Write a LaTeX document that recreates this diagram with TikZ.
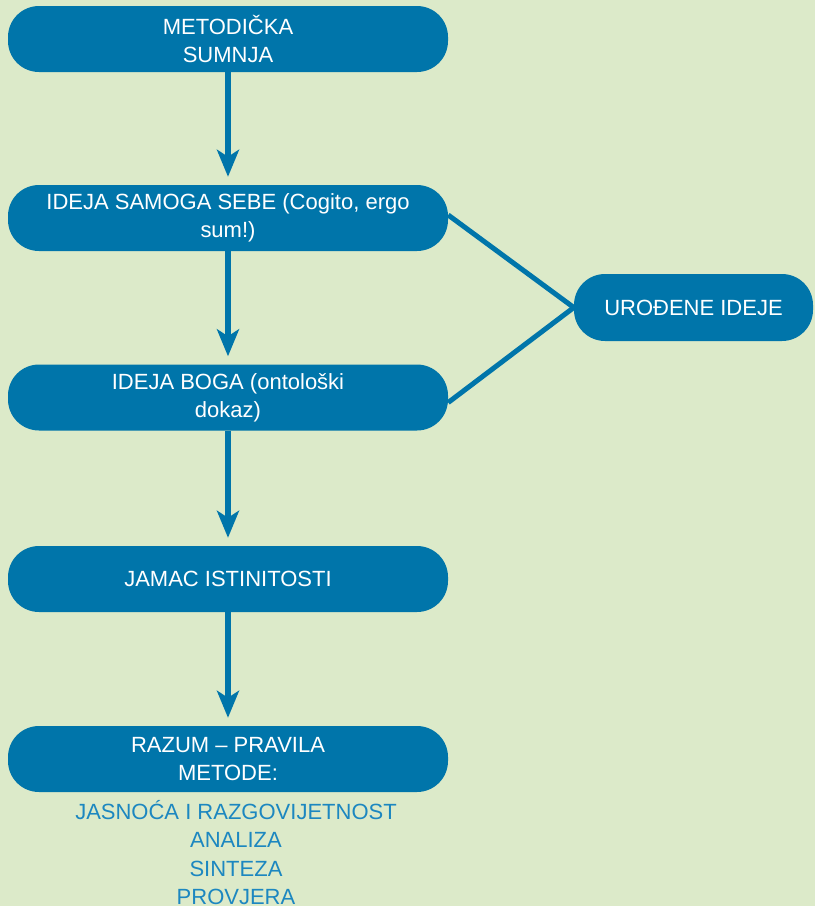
\documentclass[tikz,border=0pt]{standalone}
\usepackage{fontspec}
\setmainfont{Liberation Sans}
\usetikzlibrary{arrows.meta}
\definecolor{bgc}{RGB}{220,234,201}
\definecolor{boxc}{RGB}{0,117,170}
\definecolor{txtc}{RGB}{28,135,192}
\tikzset{
  pill/.style={fill=boxc, draw=none, rounded corners=31pt, text=white,
    align=center, font=\fontsize{22}{28}\selectfont, inner sep=0pt},
  arr/.style={draw=boxc, line width=5.5pt, -{Stealth[length=27pt,width=22pt,inset=7pt]}, shorten >=8pt},
  link/.style={draw=boxc, line width=5pt},
}
\begin{document}
\begin{tikzpicture}[x=1pt,y=-1pt]
\fill[bgc] (0,0) rectangle (815,906);
\useasboundingbox (0,0) rectangle (815,906);
\node[pill, minimum width=440pt, minimum height=66pt] (b1) at (228,39) {METODIČKA\\SUMNJA};
\node[pill, minimum width=440pt, minimum height=66pt] (b2) at (228,218) {IDEJA SAMOGA SEBE (Cogito, ergo\\sum!)};
\node[pill, minimum width=440pt, minimum height=66pt] (b3) at (228,397.5) {IDEJA BOGA (ontološki\\dokaz)};
\node[pill, minimum width=440pt, minimum height=66pt] (b4) at (228,579) {JAMAC ISTINITOSTI};
\node[pill, minimum width=440pt, minimum height=66pt] (b5) at (228,759) {RAZUM – PRAVILA\\METODE:};
\node[pill, minimum width=239pt, minimum height=67pt] (b6) at (693.5,307.5) {UROĐENE IDEJE};
\node[anchor=base, align=center, text=txtc, font=\fontsize{22}{28.5}\selectfont, inner sep=0pt] (list) at (236,904.5)
  {JASNOĆA I RAZGOVIJETNOST\\ANALIZA\\SINTEZA\\PROVJERA};
\draw[arr] (b1.south) -- (b2.north);
\draw[arr] (b2.south) -- (b3.north);
\draw[arr] (b3.south) -- (b4.north);
\draw[arr] (b4.south) -- (b5.north);
\draw[link] ([yshift=3pt]b2.east) -- (b6.west);
\draw[link] ([yshift=-5pt]b3.east) -- (b6.west);
\end{tikzpicture}
\end{document}
